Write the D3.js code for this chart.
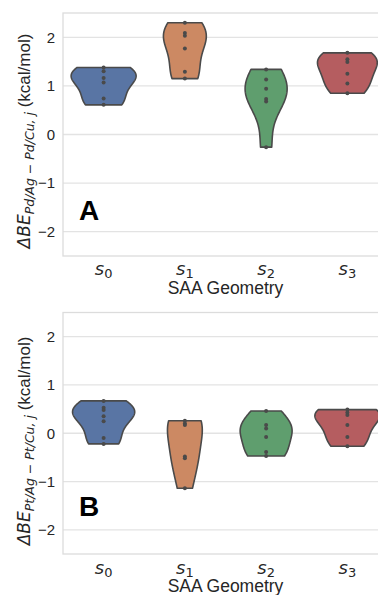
<!DOCTYPE html>
<html>
<head>
<meta charset="utf-8">
<script src="https://cdn.jsdelivr.net/npm/d3@7"></script>
<style>
  html, body { margin: 0; padding: 0; background: #fff; }
  svg { display: block; }
</style>
</head>
<body>
<svg id="chart" width="378" height="595"></svg>
<script>
// Geometry subscripts shown on the x axis (s_0 ... s_3)
const categories = ["0", "1", "2", "3"];

// Panel A: ΔBE Pd/Ag − Pd/Cu, j (kcal/mol), one array per geometry
const panelA_s0 = [1.38, 1.30, 1.16, 1.07, 0.74, 0.61];
const panelA_s1 = [2.30, 2.09, 2.03, 1.77, 1.29, 1.15];
const panelA_s2 = [1.34, 1.13, 0.94, 0.73, 0.68, -0.26];
const panelA_s3 = [1.68, 1.55, 1.49, 1.25, 1.05, 0.85];

// Panel B: ΔBE Pt/Ag − Pt/Cu, j (kcal/mol)
const panelB_s0 = [0.67, 0.53, 0.48, 0.35, 0.25, -0.10, -0.22];
const panelB_s1 = [0.26, 0.20, 0.17, -0.48, -0.52, -1.14];
const panelB_s2 = [0.46, 0.17, 0.10, -0.08, -0.39, -0.47];
const panelB_s3 = [0.49, 0.43, 0.38, 0.17, -0.08, -0.27];

const yTicks = [-2, -1, 0, 1, 2];
const yDomain = [-2.5, 2.5];
const palette = ["#5975a4", "#cc8963", "#5f9e6e", "#b55d60"];
const edgeGray = "#4a4a4a";

const panels = [
  { letter: "A", metal: "Pd", groups: [panelA_s0, panelA_s1, panelA_s2, panelA_s3],
    top: 13, bottom: 256, letterY: 220, tickY: 275, xlabelY: 294, ylabelY: 141 },
  { letter: "B", metal: "Pt", groups: [panelB_s0, panelB_s1, panelB_s2, panelB_s3],
    top: 312.5, bottom: 554, letterY: 516, tickY: 573.5, xlabelY: 592, ylabelY: 441 }
];

const svg = d3.select("#chart");
const plotLeft = 63, plotRight = 388;
const sansFont = "'Liberation Sans', Arial, sans-serif";
const mathFont = "'DejaVu Sans', sans-serif";

// Gaussian KDE with Scott's rule, evaluated between the data extremes (no cut)
function kde(values, gridsize) {
  const n = values.length;
  const sd = d3.deviation(values);
  const bw = sd * Math.pow(n, -0.2);
  const [lo, hi] = d3.extent(values);
  const pts = [];
  for (let i = 0; i < gridsize; i++) {
    const v = lo + (hi - lo) * i / (gridsize - 1);
    let s = 0;
    for (const xi of values) {
      const z = (v - xi) / bw;
      s += Math.exp(-0.5 * z * z);
    }
    pts.push({ value: v, density: s / (n * bw * Math.sqrt(2 * Math.PI)) });
  }
  return pts;
}

panels.forEach(p => {
  const g = svg.append("g");
  const x = d3.scaleBand().domain(categories).range([plotLeft, plotRight]).padding(0);
  const y = d3.scaleLinear().domain(yDomain).range([p.bottom, p.top]);

  // grid lines
  g.append("g").selectAll("line").data(yTicks).join("line")
    .attr("x1", plotLeft).attr("x2", plotRight)
    .attr("y1", d => y(d)).attr("y2", d => y(d))
    .attr("stroke", "#e3e3e3").attr("stroke-width", 1.3);

  // frame
  g.append("rect")
    .attr("x", plotLeft).attr("y", p.top)
    .attr("width", plotRight - plotLeft).attr("height", p.bottom - p.top)
    .attr("fill", "none").attr("stroke", "#dcdcdc").attr("stroke-width", 1.3);

  // y axis tick labels
  const yAxis = d3.axisLeft(y).tickValues(yTicks).tickSize(0).tickPadding(8)
    .tickFormat(d => d < 0 ? "\u2212" + Math.abs(d) : String(d));
  const ya = g.append("g").attr("transform", `translate(${plotLeft},0)`).call(yAxis);
  ya.select(".domain").remove();
  ya.selectAll("text").attr("font-family", sansFont).attr("font-size", 15).attr("fill", "#262626");

  // violins (area-scaled densities)
  const kdes = p.groups.map(vals => kde(vals, 100));
  const maxD = d3.max(kdes, k => d3.max(k, d => d.density));
  const halfW = d3.scaleLinear().domain([0, maxD]).range([0, x.bandwidth() * 0.4]);

  kdes.forEach((k, i) => {
    const cx = x(categories[i]) + x.bandwidth() / 2;
    const area = d3.area()
      .x0(d => cx - halfW(d.density))
      .x1(d => cx + halfW(d.density))
      .y(d => y(d.value))
      .curve(d3.curveLinear);
    g.append("path").datum(k)
      .attr("d", area)
      .attr("fill", palette[i])
      .attr("stroke", edgeGray).attr("stroke-width", 1.6)
      .attr("stroke-linejoin", "round");
    g.append("g").selectAll("circle").data(p.groups[i]).join("circle")
      .attr("cx", cx).attr("cy", d => y(d)).attr("r", 2)
      .attr("fill", edgeGray);
  });

  // x tick labels: italic s with upright subscript
  categories.forEach(c => {
    const cx = x(c) + x.bandwidth() / 2;
    const t = g.append("text")
      .attr("x", cx).attr("y", p.tickY)
      .attr("text-anchor", "middle")
      .attr("font-family", mathFont).attr("fill", "#262626");
    t.append("tspan").attr("font-size", 18).attr("font-style", "italic").text("s");
    t.append("tspan").attr("font-size", 13).attr("dy", 3).text(c);
  });

  // x axis label
  g.append("text")
    .attr("x", (plotLeft + 378) / 2 + 5).attr("y", p.xlabelY)
    .attr("text-anchor", "middle")
    .attr("font-family", sansFont).attr("font-size", 17.5).attr("fill", "#262626")
    .text("SAA Geometry");

  // y axis label
  const yl = g.append("text")
    .attr("transform", `translate(30,${p.ylabelY}) rotate(-90)`)
    .attr("text-anchor", "middle")
    .attr("fill", "#262626");
  yl.append("tspan").attr("font-family", mathFont).attr("font-style", "italic")
    .attr("font-size", 17).text("\u0394BE");
  yl.append("tspan").attr("font-family", mathFont).attr("font-style", "italic")
    .attr("font-size", 12.5).attr("dy", 4)
    .text(`${p.metal}/Ag \u2212 ${p.metal}/Cu, j`);
  yl.append("tspan").attr("font-family", sansFont)
    .attr("font-size", 17).attr("dy", -4).text(" (kcal/mol)");

  // panel letter
  g.append("text")
    .attr("x", 79).attr("y", p.letterY)
    .attr("font-family", sansFont).attr("font-weight", "bold")
    .attr("font-size", 28).attr("fill", "#000")
    .text(p.letter);
});
</script>
</body>
</html>
